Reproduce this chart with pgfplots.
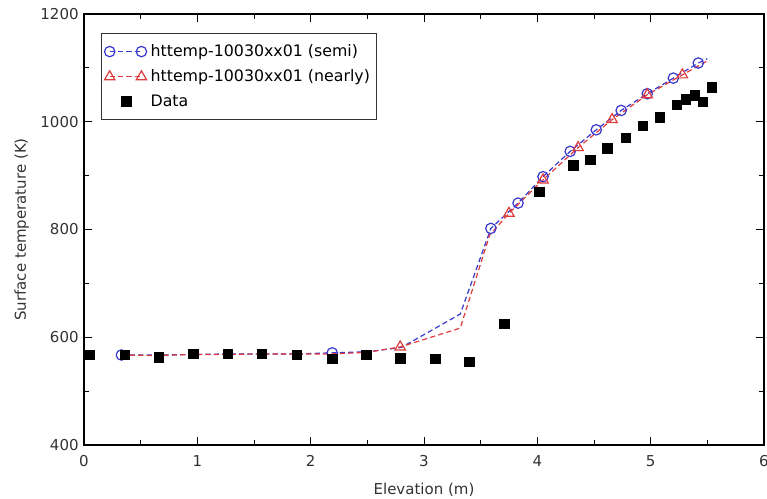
\documentclass[border=0pt]{standalone}
\usepackage{fontspec}
\setmainfont{DejaVu Sans}
\usepackage{pgfplots}
\pgfplotsset{compat=1.18}
\definecolor{semiblue}{RGB}{55,55,205}
\definecolor{nearred}{RGB}{225,60,60}
\pgfplotsset{endmarks legend/.style={legend image code/.code={\draw[##1, mark indices={1,3}] plot coordinates {(0cm,0cm) (0.28cm,0cm) (0.56cm,0cm)};}}}
\begin{document}
\fontsize{7.5bp}{9bp}\selectfont
\begin{tikzpicture}
\begin{axis}[
  name=main,
  scale only axis,
  width=340bp, height=215.5bp,
  xmin=0, xmax=6, ymin=400, ymax=1200,
  xtick={0,1,2,3,4,5,6}, ytick={400,600,800,1000,1200},
  minor xtick={0.5,1.5,2.5,3.5,4.5,5.5},
  minor ytick={500,700,900,1100},
  tick align=inside,
  major tick length=4bp, minor tick length=2.5bp,
  tick style={black, line width=0.5pt},
  axis line style={black, line width=0.6pt},
  /pgf/number format/assume math mode=true,
  /pgf/number format/1000 sep={},
  ticklabel style={font=\fontsize{7.5bp}{9bp}\selectfont, text=black!80},
  xticklabel style={yshift=-2.5bp},
  label style={font=\fontsize{7.5bp}{9bp}\selectfont, text=black!80},
  xlabel={Elevation (m)},
  ylabel={Surface temperature (K)},
  xlabel style={yshift=-3bp},
  ylabel style={yshift=0.5bp},
  legend cell align=left,
  legend style={at={(rel axis cs:0.025,0.956)}, anchor=north west,
    draw=black!80, line width=0.5pt, font=\fontsize{7.9bp}{9.5bp}\selectfont,
    row sep=1.5bp, inner xsep=1.5bp, inner ysep=3.5bp},
]
\addplot[semiblue, dash pattern=on 2.6bp off 1.6bp, line width=0.6pt,
  mark=o, mark size=2.6bp, mark options={solid, line width=0.6pt},
  mark indices={1,7,11,12,13,14,15,16,17,18,19},
  endmarks legend]
coordinates {
(0.33,567) (0.65,567) (0.97,568) (1.27,569) (1.57,569) (1.88,569) (2.19,571)
(2.50,573) (2.80,581) (3.32,643) (3.59,802) (3.83,849) (4.05,898) (4.29,945)
(4.52,985) (4.74,1021) (4.97,1052) (5.20,1081) (5.42,1109) (5.50,1117)
};
\addlegendentry{httemp-10030xx01 (semi)}
\addplot[nearred, dash pattern=on 2.6bp off 1.6bp, line width=0.6pt,
  mark=triangle, mark size=3bp, mark options={solid, line width=0.6pt},
  mark indices={9,12,13,14,15,16,17},
  endmarks legend]
coordinates {
(0.33,567) (0.65,566) (0.97,568) (1.27,568) (1.57,569) (1.88,569) (2.19,569)
(2.50,572) (2.79,582) (3.32,617) (3.58,790) (3.75,830) (4.05,892) (4.36,952)
(4.66,1004) (4.97,1050) (5.28,1087) (5.50,1113)
};
\addlegendentry{httemp-10030xx01 (nearly)}
\addplot[only marks, mark=square*, mark size=2.4bp, black]
coordinates {
(0.05,567) (0.36,567) (0.66,563) (0.965,569) (1.27,569) (1.57,569) (1.88,567)
(2.19,560) (2.49,567) (2.79,561) (3.10,560) (3.40,554) (3.71,625) (4.02,870)
(4.32,919) (4.47,929) (4.62,950) (4.78,970) (4.93,992) (5.08,1008) (5.23,1031)
(5.31,1042) (5.39,1049) (5.46,1037) (5.54,1064)
};
\addlegendentry{Data}
\end{axis}
\pgfresetboundingbox
\path[use as bounding box] ([shift={(-42bp,-27bp)}]main.south west) rectangle ([shift={(1.5bp,7bp)}]main.north east);
\end{tikzpicture}
\end{document}
